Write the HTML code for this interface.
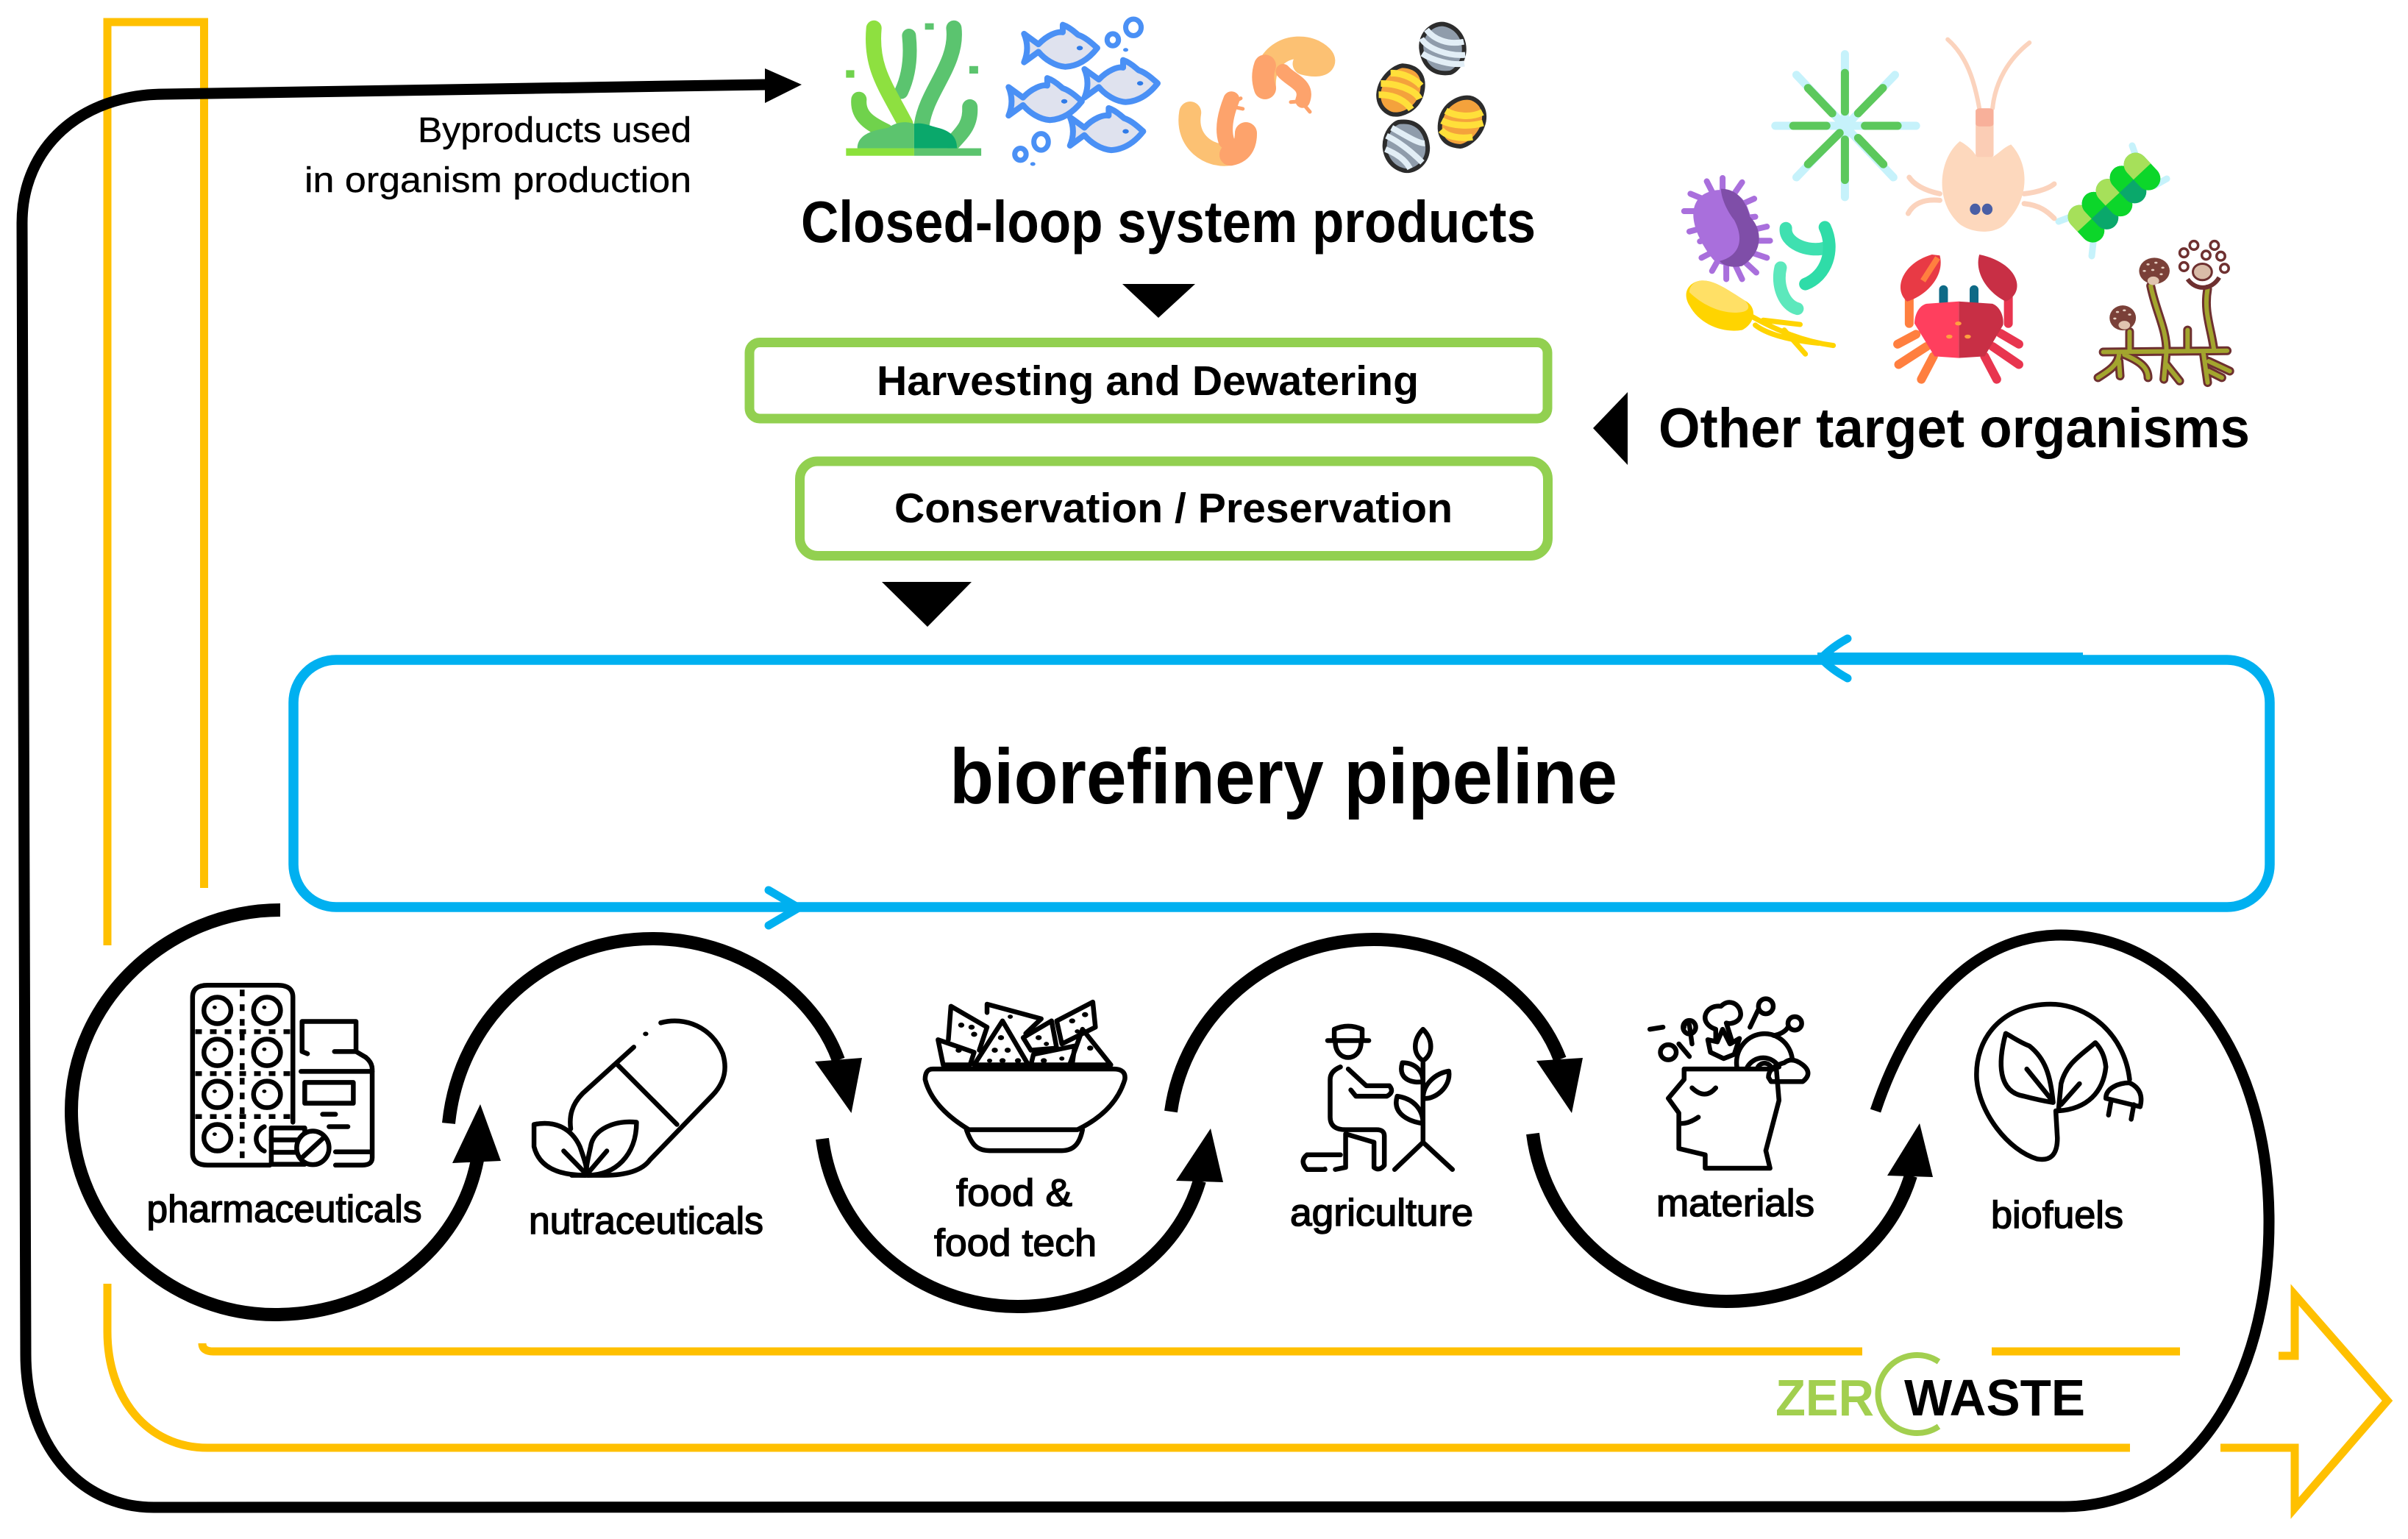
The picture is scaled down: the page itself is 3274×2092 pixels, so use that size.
<!DOCTYPE html>
<html><head><meta charset="utf-8"><style>
html,body{margin:0;padding:0;background:#fff}
svg{display:block}
text{font-family:"Liberation Sans",sans-serif;fill:#000}
.b{font-weight:bold}
.m{stroke:#000;stroke-width:1.5}
.r{stroke:#000;stroke-width:.4}
.n *{vector-effect:non-scaling-stroke}
.k{fill:none;stroke:#000;stroke-width:6.5;stroke-linecap:round;stroke-linejoin:round}
</style></head><body>
<svg width="3274" height="2092" viewBox="0 0 3274 2092" xmlns="http://www.w3.org/2000/svg">
<rect width="3274" height="2092" fill="#fff"/>
<defs>
<g id="fish"><path d="M-70,-38 L-42,-10 C-25,-35 -5,-45 5,-42 L5,-62 C20,-55 30,-40 35,-35 C50,-28 62,-12 72,0 C55,30 35,48 10,50 C-10,48 -30,30 -42,10 L-70,38 C-62,12 -62,-12 -70,-38Z" fill="#dfe2ee" stroke="#4a90f5" stroke-width="8" stroke-linejoin="round" vector-effect="non-scaling-stroke"/><circle cx="38" cy="0" r="6" fill="#2f7be8"/></g>
<path id="clam" d="M-5,-68 C30,-70 45,-40 42,5 C38,45 10,68 -10,62 C-40,50 -48,5 -35,-30 C-28,-50 -15,-65 -5,-68Z" stroke="#2c2c2c" stroke-width="6" vector-effect="non-scaling-stroke"/>
</defs>

<!-- yellow loop + arrow -->
<g fill="none" stroke="#FFC000" stroke-width="11" stroke-linejoin="miter">
<path d="M146,1285 L146,30 L277.5,30 L277.5,1207"/>
<path d="M146,1745 L146,1810 C146,1900 200,1968 282,1968 L2896,1968"/>
<path d="M275,1826 Q275,1837 290,1837 L2532,1837"/>
<path d="M2708,1837 L2964,1837"/>
<path d="M3098,1843 L3120,1843 L3120,1760 L3246,1904 L3120,2050 L3120,1968 L3019,1968"/>
</g>

<!-- blue box -->
<rect x="399" y="897" width="2687" height="336" rx="58" ry="58" fill="none" stroke="#00B0F0" stroke-width="13.5"/>
<path d="M2471,887 L2832,887 L2832,903 L2471,903Z" fill="#00B0F0"/>
<path d="M2512,868 Q2490,880 2476,895 Q2490,910 2512,922" fill="none" stroke="#00B0F0" stroke-width="11" stroke-linecap="round"/>
<path d="M1045,1210 L1086,1234 L1045,1258" fill="none" stroke="#00B0F0" stroke-width="11" stroke-linecap="round" stroke-linejoin="round"/>

<!-- green boxes -->
<rect x="1019" y="465.5" width="1085" height="103.5" rx="14" fill="#fff" stroke="#92D050" stroke-width="13"/>
<rect x="1087.5" y="627" width="1017" height="128.5" rx="24" fill="#fff" stroke="#92D050" stroke-width="13"/>

<!-- black curves -->
<g fill="none" stroke="#000" stroke-linecap="butt">
<path stroke-width="15" d="M2550,1510 C2600,1360 2690,1271 2802,1271 C2963,1271 3085,1430 3085,1661 C3085,1880 2978,2048 2806,2048 L209,2049 C105,2049 35,1960 35,1841 L30,303 C30,200 110,128 224,128 L1042,115"/>
<path stroke-width="18" d="M381,1237 C230,1237 97,1360 97,1510 C97,1665 225,1787 374,1787 C510,1787 625,1700 649,1577"/>
<path stroke-width="18" d="M610,1527 C625,1380 745,1276 887,1276 C1000,1276 1105,1345 1140,1441"/>
<path stroke-width="18" d="M1118,1548 C1135,1680 1250,1776 1384,1776 C1500,1776 1600,1710 1631,1605"/>
<path stroke-width="18" d="M1592,1511 C1610,1380 1725,1277 1868,1277 C1980,1277 2085,1345 2121,1440"/>
<path stroke-width="18" d="M2084,1541 C2100,1670 2215,1769 2347,1769 C2465,1769 2565,1705 2598,1598"/>
</g>
<g fill="#000">
<polygon points="1040,93 1090,115 1040,140"/>
<polygon points="653,1501 615,1581 681,1578"/>
<polygon points="1157.5,1513 1108,1443 1172,1438"/>
<polygon points="1646,1534 1599,1605 1663,1607"/>
<polygon points="2137,1513 2089,1442 2152,1438"/>
<polygon points="2610,1527 2566,1598 2628,1600"/>
<polygon points="1526,386 1625,386 1575,432"/>
<polygon points="1199,791 1321,791 1261,852"/>
<polygon points="2166,582 2213,533 2213,632"/>
</g>

<!-- text -->
<text class="r" x="568" y="193" font-size="48" textLength="372" lengthAdjust="spacingAndGlyphs">Byproducts used</text>
<text class="r" x="414" y="261" font-size="48" textLength="526" lengthAdjust="spacingAndGlyphs">in organism production</text>
<text class="b" x="1089" y="329" font-size="80" textLength="999" lengthAdjust="spacingAndGlyphs">Closed-loop system products</text>
<text class="b" x="1192" y="537" font-size="57" textLength="737" lengthAdjust="spacingAndGlyphs">Harvesting and Dewatering</text>
<text class="b" x="1216" y="710" font-size="57" textLength="759" lengthAdjust="spacingAndGlyphs">Conservation / Preservation</text>
<text class="b" x="2255" y="608" font-size="76" textLength="804" lengthAdjust="spacingAndGlyphs">Other target organisms</text>
<text class="b" x="1291" y="1092" font-size="106" textLength="908" lengthAdjust="spacingAndGlyphs">biorefinery pipeline</text>
<text class="m" x="199.5" y="1661" font-size="52" textLength="374" lengthAdjust="spacingAndGlyphs">pharmaceuticals</text>
<text class="m" x="719" y="1677" font-size="52" textLength="319" lengthAdjust="spacingAndGlyphs">nutraceuticals</text>
<text class="m" x="1300" y="1639" font-size="52" textLength="158" lengthAdjust="spacingAndGlyphs">food &amp;</text>
<text class="m" x="1270" y="1707" font-size="52" textLength="221" lengthAdjust="spacingAndGlyphs">food tech</text>
<text class="m" x="1754" y="1666" font-size="52" textLength="249" lengthAdjust="spacingAndGlyphs">agriculture</text>
<text class="m" x="2252" y="1653" font-size="52" textLength="215" lengthAdjust="spacingAndGlyphs">materials</text>
<text class="m" x="2707" y="1669" font-size="52" textLength="180" lengthAdjust="spacingAndGlyphs">biofuels</text>

<!-- zero waste logo -->
<text class="b" x="2414" y="1924" font-size="70" textLength="134" lengthAdjust="spacingAndGlyphs" style="fill:#A2CF4F">ZER</text>
<path d="M2636,1851 A53,53 0 1 0 2636,1939" fill="none" stroke="#A2CF4F" stroke-width="8"/>
<text class="b" x="2589" y="1924" font-size="70" textLength="246" lengthAdjust="spacingAndGlyphs">WASTE</text>

<!-- zoom-2 coordinate icons -->
<g class="n" transform="translate(1050,0) scale(.7015,.5102)">
<!-- seaweed -->
<g fill="none" stroke-linecap="round">
<path d="M265,95 C270,160 262,210 250,245" stroke="#5bc46f" stroke-width="19"/>
<path d="M352,75 C360,170 300,240 290,330" stroke="#5bc46f" stroke-width="21"/>
<path d="M197,75 C190,180 220,230 258,330" stroke="#8ee040" stroke-width="21"/>
<path d="M168,265 C165,310 190,330 220,350" stroke="#70d24c" stroke-width="21"/>
<path d="M383,285 C385,330 370,350 350,380" stroke="#5bc46f" stroke-width="21"/>
</g>
<path d="M165,395 C165,350 210,345 225,340 C245,320 265,325 275,330 L275,395Z" fill="#5cc46e"/>
<path d="M275,395 L275,330 C290,325 305,335 320,340 C350,350 358,370 358,395Z" fill="#0aa86b"/>
<rect x="143" y="395" width="132" height="20" fill="#8be13b"/><rect x="275" y="395" width="130" height="20" fill="#5cc46e"/>
<rect x="296" y="62" width="17" height="17" fill="#5cc46e"/><rect x="382" y="176" width="17" height="20" fill="#5cc46e"/><rect x="143" y="187" width="16" height="20" fill="#70d24c"/>
<!-- fish -->
<use href="#fish" transform="translate(558,128)"/><use href="#fish" transform="translate(675,222)"/><use href="#fish" transform="translate(528,270)"/><use href="#fish" transform="translate(647,350)"/>
<g fill="none" stroke="#4a90f5" stroke-width="7">
<ellipse cx="700" cy="73" rx="15" ry="22"/><ellipse cx="660" cy="106" rx="11" ry="16"/><ellipse cx="521" cy="378" rx="14" ry="22"/><ellipse cx="481" cy="411" rx="11" ry="16"/>
</g>
<circle cx="685" cy="133" r="5" fill="#4a90f5"/><circle cx="505" cy="437" r="5" fill="#4a90f5"/>
<!-- shrimp -->
<g fill="none" stroke-linecap="round" stroke-linejoin="round">
<path d="M810,300 C800,380 850,420 885,412 C915,405 918,375 918,355" stroke="#fcc173" stroke-width="30"/>
<path d="M888,412 C915,405 918,375 918,355" stroke="#fda36c" stroke-width="30"/>
<path d="M880,375 C872,340 880,300 890,265" stroke="#fda36c" stroke-width="22"/>
<path d="M897,270 L908,262 M895,285 L912,290" stroke="#fda36c" stroke-width="5"/>
<path d="M955,235 C950,140 1010,110 1050,135 C1085,160 1070,185 1030,170" stroke="#fcc173" stroke-width="30"/>
<path d="M955,235 C950,215 950,195 955,175" stroke="#fda36c" stroke-width="30"/>
<path d="M990,190 C1005,215 1040,225 1028,268" stroke="#fda36c" stroke-width="20"/>
<path d="M1025,270 L1042,298 M1022,270 L1005,272" stroke="#fda36c" stroke-width="5"/>
</g>
<!-- clams -->
<g transform="translate(1300,127) rotate(172)"><use href="#clam" fill="#8f9cab"/><path d="M-40,-25 C-10,-25 30,0 38,30 M-42,10 C-10,5 15,25 25,52 M-35,-48 C-10,-50 25,-30 42,-10" fill="none" stroke="#e2eef6" stroke-width="8"/></g>
<g transform="translate(1217,243) rotate(8)"><use href="#clam" fill="#f4a23c"/><path d="M-40,-15 C-5,-20 30,-5 40,15 M-40,15 C-10,10 15,25 28,45 M-25,-45 C0,-50 25,-35 38,-20" fill="none" stroke="#ffdf3a" stroke-width="9"/></g>
<g transform="translate(1338,322) rotate(188)"><use href="#clam" fill="#f4a23c"/><path d="M-40,0 C-15,-15 20,-15 40,-5 M-35,28 C-15,10 15,10 36,22 M-25,-40 C0,-50 25,-45 38,-30" fill="none" stroke="#ffdf3a" stroke-width="9"/></g>
<g transform="translate(1228,392) rotate(-8)"><use href="#clam" fill="#8f9cab"/><path d="M-20,-55 C0,-35 25,-5 38,-5 M-33,-35 C-10,-15 10,15 26,45 M-40,0 C-20,15 -5,35 0,58" fill="none" stroke="#e2eef6" stroke-width="8"/></g>
</g>

<!-- green chain in real coords -->
<path d="M2899,198 L2905,215 M2946,243 L2930,252 M2799,301 L2815,295 M2844,348 L2846,330" fill="none" stroke="#c6f2fb" stroke-width="9" stroke-linecap="round"/>
<g transform="translate(2873,270) rotate(-43)">
<rect x="-66" y="-29" width="32" height="58" rx="16" fill="#0cd62a"/><path d="M-66,0 L-66,-13 A16,16 0 0 1 -34,-13 L-34,0Z" fill="#a6e05a"/>
<rect x="-40" y="-29" width="32" height="58" rx="16" fill="#0aa86b"/><path d="M-40,0 L-40,-13 A16,16 0 0 1 -8,-13 L-8,0Z" fill="#0cd62a"/>
<rect x="-14" y="-29" width="32" height="58" rx="16" fill="#0cd62a"/><path d="M-14,0 L-14,-13 A16,16 0 0 1 18,-13 L18,0Z" fill="#a6e05a"/>
<rect x="12" y="-29" width="32" height="58" rx="16" fill="#0aa86b"/><path d="M12,0 L12,-13 A16,16 0 0 1 44,-13 L44,0Z" fill="#0cd62a"/>
<rect x="38" y="-29" width="32" height="58" rx="16" fill="#0cd62a"/><path d="M38,0 L38,-13 A16,16 0 0 1 70,-13 L70,0Z" fill="#a6e05a"/>
</g>

<!-- zoom-3 coordinate icons -->
<g class="n" transform="translate(2150,0) scale(.7168,.4464)">
<!-- diatom star -->
<g fill="none" stroke="#c6f2fb" stroke-width="11" stroke-linecap="round">
<path d="M500,165 L500,600 M368,383 L635,383 M408,228 L592,540 M595,228 L408,540"/>
</g>
<g fill="none" stroke="#5cc85c" stroke-width="11" stroke-linecap="round">
<path d="M500,222 L500,340 M500,425 L500,548 M402,383 L465,383 M538,383 L600,383 M430,268 L476,345 M572,268 L525,345 M430,500 L490,405 M573,500 L525,420"/>
</g>
<!-- copepod -->
<g fill="none" stroke="#fbd3bd" stroke-linecap="round">
<path stroke-width="6" d="M755,330 C745,240 730,170 695,120 M780,330 C785,250 810,180 850,130"/>
<path stroke-width="7" d="M680,590 C650,580 630,560 622,540 M680,610 C650,605 630,620 620,650 M840,590 C870,585 890,570 897,560 M840,620 C870,625 885,645 897,665"/>
</g>
<rect x="748" y="330" width="34" height="150" rx="8" fill="#fbcdb5"/><rect x="748" y="330" width="34" height="55" rx="8" fill="#f8b09a"/>
<path d="M718,430 C680,480 670,600 710,670 C730,712 790,722 810,670 C850,600 850,500 815,440 C800,450 790,470 780,478 L750,478 C745,460 730,440 718,430Z" fill="#fdd8bd"/>
<ellipse cx="747" cy="637" rx="10" ry="17" fill="#4a5fa5"/><ellipse cx="770" cy="637" rx="10" ry="17" fill="#4a5fa5"/>
<!-- purple bacterium -->
<g fill="none" stroke="#a96fdc" stroke-width="8" stroke-linecap="round">
<path d="M195,643 L235,643 M207,590 L240,612 M238,552 L250,590 M268,542 L268,580 M305,555 L290,590 M328,605 L300,625 M330,660 L305,665 M352,690 L325,700 M358,733 L325,733 M352,785 L315,765 M332,830 L305,790 M305,850 L290,800 M275,850 L275,800 M248,825 L262,785 M228,785 L252,765 M205,705 L240,690 M225,735 L250,725"/>
</g>
<path d="M225,600 C250,565 300,570 315,630 C325,680 340,710 335,750 C325,810 270,825 250,790 C225,740 195,650 225,600Z" fill="#a96fdc"/>
<path d="M265,575 C300,575 315,625 320,660 C345,700 345,770 305,810 C280,818 268,805 262,795 C300,780 310,730 290,670 C275,640 265,600 265,575Z" fill="#7f4ea8"/>
<!-- teal -->
<g fill="none" stroke-linecap="round" stroke-width="17">
<path d="M388,695 C385,740 430,770 462,755" stroke="#3fe0b0"/>
<path d="M462,692 C482,760 465,840 425,865" stroke="#2fdca8"/>
<path d="M378,815 C370,870 385,930 410,940" stroke="#5ce8bc"/>
</g>
<!-- yellow -->
<path d="M225,855 C250,850 275,880 310,915 C335,935 330,985 305,1005 C270,1015 225,990 205,930 C190,890 205,860 225,855Z" fill="#ffd400"/>
<path d="M225,855 C250,850 275,880 310,915 C320,930 320,945 305,950 C270,960 230,930 205,890 C205,870 215,858 225,855Z" fill="#ffe066"/>
<g fill="none" stroke="#ffd400" stroke-width="7" stroke-linecap="round"><path d="M325,965 C370,1005 420,1040 478,1052 M330,990 C350,1015 390,1035 450,1045 M345,975 L415,988 M385,1005 L425,1078"/></g>
<!-- crab -->
<g fill="none" stroke-width="12" stroke-linecap="round">
<path d="M635,1018 L600,1048 M655,1055 L602,1110 M668,1085 L645,1155" stroke="#ff7f3f"/>
<path d="M795,1015 L830,1048 M780,1055 L830,1110 M765,1085 L788,1155" stroke="#e8354f"/>
<path d="M622,905 L622,985" stroke="#ff7f3f"/><path d="M810,905 L810,985" stroke="#e8354f"/>
<path d="M687,882 L687,920 M745,882 L745,920" stroke="#0e6a86"/>
</g>
<path d="M665,775 C610,800 590,880 618,918 C655,900 690,840 680,778Z" fill="#e83a45"/>
<path d="M755,775 C830,800 845,890 805,918 C770,890 745,830 755,775Z" fill="#c82f45"/>
<path d="M676,785 L648,855" stroke="#ff7f3f" stroke-width="8" fill="none"/>
<path d="M716,918 L655,925 C640,930 632,960 632,985 L670,1085 L716,1090Z" fill="#ff3f5e"/>
<path d="M716,918 L780,925 C795,935 802,965 800,990 L765,1085 L716,1090Z" fill="#c82f45"/>
<circle cx="715" cy="985" r="6" fill="#ff9f3f"/><circle cx="698" cy="1025" r="6" fill="#ff9f3f"/><circle cx="733" cy="1025" r="6" fill="#ff9f3f"/>
<!-- fungus -->
<g fill="none" stroke-linecap="round" stroke-linejoin="round">
<g stroke="#6e3030" stroke-width="12">
<path d="M990,1072 L1225,1068 M1040,1010 L1040,1070 M1080,870 C1090,950 1110,1000 1110,1070 M1188,880 C1180,950 1195,1000 1200,1065 M1150,1005 L1150,1065 M1020,1075 C1020,1110 1000,1130 980,1150 M1020,1100 L1022,1145 M1030,1080 C1060,1100 1075,1120 1075,1150 M1110,1070 L1105,1155 M1110,1110 L1135,1160 M1180,1075 L1188,1165 M1190,1100 L1230,1130 M1190,1130 L1215,1150"/>
</g>
<g stroke="#a3a52e" stroke-width="6">
<path d="M990,1072 L1225,1068 M1040,1010 L1040,1070 M1080,870 C1090,950 1110,1000 1110,1070 M1188,880 C1180,950 1195,1000 1200,1065 M1150,1005 L1150,1065 M1020,1075 C1020,1110 1000,1130 980,1150 M1020,1100 L1022,1145 M1030,1080 C1060,1100 1075,1120 1075,1150 M1110,1070 L1105,1155 M1110,1110 L1135,1160 M1180,1075 L1188,1165 M1190,1100 L1230,1130 M1190,1130 L1215,1150"/>
</g>
</g>
<ellipse cx="1027" cy="968" rx="25" ry="38" fill="#7a4038"/><ellipse cx="1030" cy="990" rx="11" ry="13" fill="#e0c4b0"/>
<g fill="#e6d0c2"><circle cx="1017" cy="950" r="3"/><circle cx="1030" cy="945" r="3"/><circle cx="1040" cy="958" r="3"/><circle cx="1012" cy="970" r="3"/></g>
<ellipse cx="1087" cy="825" rx="29" ry="40" fill="#7a4038"/><ellipse cx="1085" cy="855" rx="11" ry="13" fill="#e0c4b0"/>
<g fill="#e6d0c2"><circle cx="1075" cy="805" r="3"/><circle cx="1090" cy="800" r="3"/><circle cx="1103" cy="815" r="3"/><circle cx="1068" cy="825" r="3"/><circle cx="1084" cy="822" r="3"/><circle cx="1100" cy="835" r="3"/></g>
<ellipse cx="1178" cy="828" rx="18" ry="25" fill="#d9bca8" stroke="#6e3030" stroke-width="3"/>
<path d="M1150,850 C1165,885 1195,885 1210,845" fill="none" stroke="#6e3030" stroke-width="6"/>
<g fill="none" stroke="#6e3030" stroke-width="3.5"><ellipse cx="1143" cy="770" rx="8" ry="13"/><ellipse cx="1162" cy="747" rx="8" ry="13"/><ellipse cx="1201" cy="747" rx="8" ry="13"/><ellipse cx="1185" cy="777" rx="8" ry="13"/><ellipse cx="1213" cy="780" rx="8" ry="13"/><ellipse cx="1143" cy="812" rx="8" ry="13"/><ellipse cx="1220" cy="817" rx="8" ry="13"/></g>
</g>

<!-- zoom-4 coordinate icons -->
<g class="n" transform="translate(0,1150) scale(.7334,.6008)">
<g class="k">
<path d="M500,722 L385,722 Q357,722 357,695 L357,342 Q357,315 385,315 L515,315 Q543,315 543,342 L543,625"/>
<ellipse cx="403" cy="372" rx="25" ry="30"/><ellipse cx="495" cy="372" rx="25" ry="30"/>
<ellipse cx="403" cy="467" rx="25" ry="30"/><ellipse cx="495" cy="467" rx="25" ry="30"/>
<ellipse cx="403" cy="562" rx="25" ry="30"/><ellipse cx="495" cy="562" rx="25" ry="30"/>
<ellipse cx="403" cy="660" rx="25" ry="30"/>
<path d="M490,635 A25,30 0 0 0 490,690"/>
<path d="M449,325 L449,712 M362,420 L540,420 M362,515 L540,515 M362,612 L540,612" stroke-dasharray="9 11" stroke-linecap="butt"/>
<path d="M570,470 L560,465 L560,397 L660,397 L660,465 L620,465"/>
<path d="M660,465 L678,478 Q690,490 690,505 L690,705 Q690,722 672,722 L622,722"/>
<path d="M558,510 L690,510"/>
<rect x="565" y="535" width="90" height="47"/>
<path d="M598,607 L622,607 M610,635 L645,635 M622,692 L688,692"/>
<rect x="503" y="638" width="62" height="82"/><path d="M503,665 L565,665 M503,693 L565,693"/>
<ellipse cx="580" cy="683" rx="30" ry="38" fill="#fff"/><path d="M560,705 L600,660"/>
<!-- capsule -->
<path d="M1225,400 C1270,385 1320,410 1340,470 C1350,510 1340,540 1320,565 L1205,710 C1190,735 1160,745 1120,745 L1060,745"/>
<path d="M1145,495 L1255,630"/>
<path d="M1175,455 L1080,560 C1060,585 1055,610 1058,640"/>
<path d="M990,630 C1030,620 1060,640 1075,680 C1085,715 1090,730 1085,745 C1040,745 1000,730 990,680Z"/>
<path d="M1180,625 C1140,620 1100,640 1095,680 C1088,720 1085,730 1090,745 C1140,745 1180,700 1180,625Z"/>
<path d="M1045,690 L1085,740 M1125,690 L1090,740"/>
</g>
<circle cx="1197" cy="425" r="5" fill="#000"/>
<g fill="#000"><circle cx="398" cy="365" r="4"/><circle cx="490" cy="365" r="4"/><circle cx="398" cy="460" r="4"/><circle cx="490" cy="460" r="4"/><circle cx="398" cy="555" r="4"/><circle cx="490" cy="555" r="4"/><circle cx="398" cy="652" r="4"/></g>
</g>

<!-- zoom-5 coordinate icons -->
<g class="n" transform="translate(1100,1200) scale(.7015,.5689)">
<g class="k">
<path d="M240,445 L590,445 Q615,445 612,470 C600,520 570,560 520,590 L310,590 C270,560 235,520 225,470 Q225,445 240,445Z"/>
<path d="M305,590 C315,625 325,640 350,640 L490,640 C515,640 525,620 530,590"/>
<path d="M375,330 L320,435 L425,435Z"/>
<path d="M270,375 L275,295 L345,345 L330,400"/>
<path d="M345,310 L345,290 L450,325 L420,360"/>
<path d="M470,330 L415,370 L430,400 L480,395Z"/>
<path d="M550,285 L480,330 L490,385 L555,345Z"/>
<path d="M530,350 L505,435 L585,435Z"/>
<path d="M250,375 L320,405 L312,435 L260,435Z"/>
<path d="M515,390 L435,410 L430,435 L510,435Z"/>
<!-- farmer -->
<path d="M1005,377 L1085,377"/>
<path d="M1018,375 L1018,350 Q1045,335 1072,350 L1072,375"/>
<path d="M1020,380 C1020,430 1070,430 1070,380"/>
<path d="M1030,440 Q1010,450 1010,470 L1010,560 Q1010,590 1040,590 L1100,590 Q1115,590 1115,605 L1115,675 Q1105,690 1095,680 L1095,620 L1040,600 L1040,680 L1020,685"/>
<path d="M1000,685 L965,685 Q950,665 965,650 L1030,650"/>
<path d="M1045,445 L1080,485 L1125,485 Q1135,500 1120,510 L1060,510 L1050,495"/>
<path d="M1190,430 L1190,620 M1135,685 L1190,620 M1247,685 L1190,620"/>
<path d="M1190,350 C1170,375 1170,410 1190,425 C1210,410 1210,375 1190,350Z"/>
<path d="M1150,430 C1140,470 1170,480 1190,475 C1190,450 1175,430 1150,430Z"/>
<path d="M1240,450 C1245,490 1210,520 1190,515 C1190,480 1215,455 1240,450Z"/>
<path d="M1140,510 C1130,550 1160,570 1190,575 C1190,540 1170,515 1140,510Z"/>
</g>
<g fill="#000"><circle cx="290" cy="400" r="6"/><circle cx="315" cy="345" r="6"/><circle cx="320" cy="362" r="6"/><circle cx="295" cy="340" r="6"/><circle cx="372" cy="370" r="6"/><circle cx="360" cy="400" r="6"/><circle cx="385" cy="400" r="6"/><circle cx="375" cy="425" r="6"/><circle cx="405" cy="425" r="6"/><circle cx="350" cy="425" r="5"/><circle cx="390" cy="320" r="5"/><circle cx="445" cy="370" r="6"/><circle cx="460" cy="385" r="5"/><circle cx="535" cy="315" r="6"/><circle cx="510" cy="330" r="6"/><circle cx="520" cy="355" r="5"/><circle cx="545" cy="395" r="6"/><circle cx="455" cy="425" r="6"/><circle cx="490" cy="420" r="5"/><circle cx="1000" cy="682" r="4"/></g>
</g>

<!-- zoom-6 coordinate icons -->
<g class="n" transform="translate(2150,1200) scale(.7168,.5689)">
<g class="k">
<path d="M195,445 L370,445 L375,520 L350,640 L358,682 L235,682 L235,650 L185,635 L185,550 L165,515 L195,470Z"/>
<path d="M210,490 Q235,520 255,490"/>
<path d="M190,575 Q205,575 222,560"/>
<path d="M295,440 A52,68 0 0 1 400,420 M315,440 A35,45 0 0 1 375,440 M335,440 A15,20 0 0 1 360,440"/>
<path d="M360,475 L420,475 Q440,455 420,435 Q400,415 385,430 Q355,440 355,465Z"/>
<path d="M268,350 L282,385 L300,372 L290,410 L270,420 L245,405 L240,375 L258,380Z"/>
<path d="M255,350 C220,335 235,290 265,295 C280,275 300,290 302,310 C305,330 285,340 275,335 L285,375 M255,350 L255,375"/>
<path d="M320,345 L335,305"/><ellipse cx="350" cy="295" rx="14" ry="18"/>
<path d="M365,365 Q385,360 392,345"/><ellipse cx="405" cy="336" rx="13" ry="16"/>
<path d="M130,350 L155,345"/><path d="M210,385 L205,340 Q195,325 195,345"/><ellipse cx="205" cy="345" rx="12" ry="16"/>
<ellipse cx="165" cy="405" rx="15" ry="18"/><path d="M185,385 L205,415"/>
<!-- biofuels -->
<path d="M1040,470 C1030,360 960,290 890,290 C800,290 745,370 750,470 C755,550 810,640 865,660 C890,665 903,650 903,610 L900,545"/>
<path d="M805,360 C790,430 790,500 840,510 C870,520 895,525 895,525 C890,460 880,420 850,390 C830,380 820,370 805,360Z"/>
<path d="M975,382 C950,410 920,430 910,480 L905,545 C960,540 990,500 995,440 C993,415 985,395 975,382Z"/>
<path d="M845,445 L893,520 M945,480 L910,530"/>
<path d="M995,515 C995,490 1020,478 1040,478 C1060,490 1065,510 1060,535Z"/>
<path d="M1005,520 L1000,555 M1048,530 L1043,565"/>
</g>
</g>
</svg>
</body></html>
